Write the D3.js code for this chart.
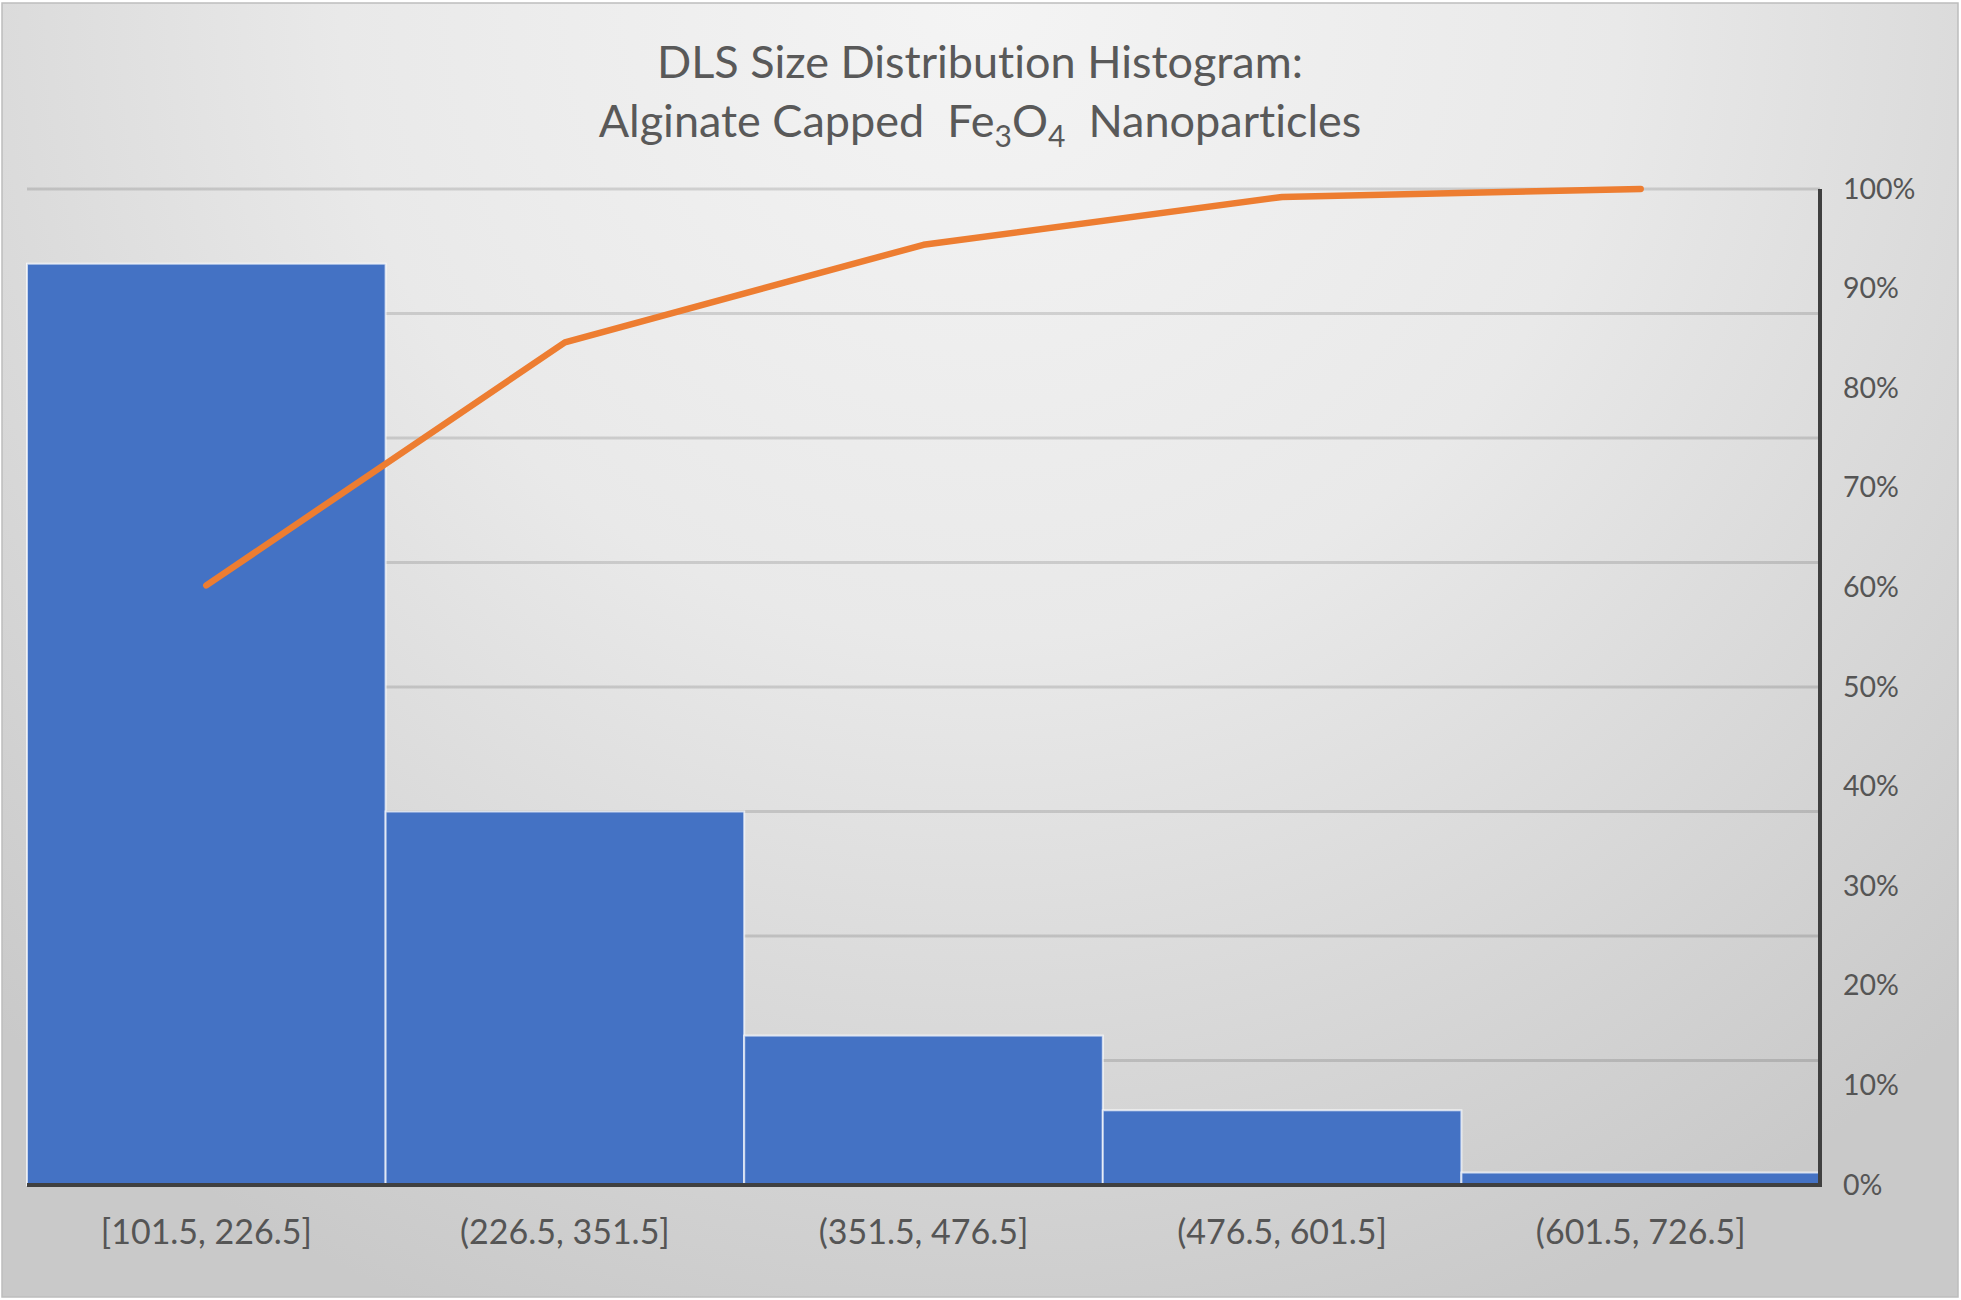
<!DOCTYPE html>
<html>
<head>
<meta charset="utf-8">
<script src="https://cdn.jsdelivr.net/npm/d3@7"></script>
<style>
  body { margin: 0; background: #ffffff; }
  svg { display: block; }
  text { font-variant-ligatures: none; }
</style>
</head>
<body>
<script>
'use strict';

// histogram bins (DLS size, nm)
const binLabels = ['[101.5, 226.5]', '(226.5, 351.5]', '(351.5, 476.5]', '(476.5, 601.5]', '(601.5, 726.5]'];
// particle counts in each bin (hidden primary axis)
const counts = [74, 30, 12, 6, 1];
// cumulative percentage (secondary axis)
const cumulativePct = [60.2, 84.6, 94.4, 99.2, 100];
const countTicks = [0, 10, 20, 30, 40, 50, 60, 70, 80];
const pctTicks = [0, 10, 20, 30, 40, 50, 60, 70, 80, 90, 100];

(function () {
  const W = 1961, H = 1300;
  const plotLeft = 27, plotRight = 1820, plotTop = 189, plotBottom = 1185;

  const svg = d3.select('body').append('svg')
    .attr('width', W)
    .attr('height', H);

  // background gradient like the Excel chart area
  const defs = svg.append('defs');
  const grad = defs.append('radialGradient')
    .attr('id', 'bg')
    .attr('gradientUnits', 'userSpaceOnUse')
    .attr('cx', 980).attr('cy', 0).attr('r', 1420);
  grad.append('stop').attr('offset', '0').attr('stop-color', '#f4f4f4');
  grad.append('stop').attr('offset', '0.45').attr('stop-color', '#e9e9e9');
  grad.append('stop').attr('offset', '1').attr('stop-color', '#c9c9c9');

  svg.append('rect')
    .attr('x', 2).attr('y', 3)
    .attr('width', W - 5).attr('height', H - 6)
    .attr('fill', 'url(#bg)')
    .attr('stroke', '#bdbdbd')
    .attr('stroke-width', 1.5);

  // scales
  const x = d3.scaleBand()
    .domain(binLabels)
    .range([plotLeft, plotRight])
    .padding(0);

  const yCount = d3.scaleLinear()
    .domain([0, 80])
    .range([plotBottom, plotTop]);

  const yPct = d3.scaleLinear()
    .domain([0, 100])
    .range([plotBottom, plotTop]);

  // gridlines from the (hidden) count axis
  svg.append('g')
    .selectAll('line')
    .data(countTicks)
    .enter()
    .append('line')
    .attr('x1', plotLeft)
    .attr('x2', plotRight)
    .attr('y1', d => yCount(d))
    .attr('y2', d => yCount(d))
    .attr('stroke', 'rgba(0,0,0,0.13)')
    .attr('stroke-width', 3);

  // histogram bars
  svg.append('g')
    .selectAll('rect')
    .data(counts)
    .enter()
    .append('rect')
    .attr('x', (d, i) => x(binLabels[i]))
    .attr('y', d => yCount(d))
    .attr('width', x.bandwidth())
    .attr('height', d => plotBottom - yCount(d))
    .attr('fill', '#4472c4')
    .attr('stroke', 'rgba(255,255,255,0.7)')
    .attr('stroke-width', 2);

  // cumulative % line
  const line = d3.line()
    .x((d, i) => x(binLabels[i]) + x.bandwidth() / 2)
    .y(d => yPct(d));

  svg.append('path')
    .datum(cumulativePct)
    .attr('d', line)
    .attr('fill', 'none')
    .attr('stroke', '#ed7d31')
    .attr('stroke-width', 6.5)
    .attr('stroke-linecap', 'round')
    .attr('stroke-linejoin', 'round');

  // x axis (category labels)
  const xAxis = d3.axisBottom(x).tickSize(0).tickPadding(35);
  const gx = svg.append('g')
    .attr('transform', `translate(0, ${plotBottom})`)
    .call(xAxis);
  gx.select('.domain').remove();
  gx.selectAll('text')
    .style('font-family', 'Lato, sans-serif')
    .style('font-size', '34px')
    .attr('fill', '#555555');

  // right % axis
  const yAxis = d3.axisRight(yPct)
    .tickValues(pctTicks)
    .tickFormat(d => d + '%')
    .tickSize(0)
    .tickPadding(23);
  const gy = svg.append('g')
    .attr('transform', `translate(${plotRight}, 0)`)
    .call(yAxis);
  gy.select('.domain').remove();
  gy.selectAll('text')
    .style('font-family', 'Lato, sans-serif')
    .style('font-size', '28.5px')
    .attr('fill', '#555555');

  // axis lines
  svg.append('line')
    .attr('x1', plotLeft).attr('x2', plotRight + 2)
    .attr('y1', plotBottom).attr('y2', plotBottom)
    .attr('stroke', '#404040')
    .attr('stroke-width', 4);
  svg.append('line')
    .attr('x1', plotRight).attr('x2', plotRight)
    .attr('y1', plotTop).attr('y2', plotBottom + 2)
    .attr('stroke', '#404040')
    .attr('stroke-width', 4);

  // title
  const title = svg.append('text')
    .attr('text-anchor', 'middle')
    .style('font-family', 'Lato, sans-serif')
    .style('font-size', '45px')
    .attr('fill', '#595959');

  title.append('tspan')
    .attr('x', 980).attr('y', 78)
    .text('DLS Size Distribution Histogram:');

  const t2 = title.append('tspan')
    .attr('x', 980).attr('y', 137);
  t2.append('tspan').text('Alginate Capped\u00a0\u00a0Fe');
  t2.append('tspan').attr('dy', 10).style('font-size', '30px').text('3');
  t2.append('tspan').attr('dy', -10).text('O');
  t2.append('tspan').attr('dy', 10).style('font-size', '30px').text('4');
  t2.append('tspan').attr('dy', -10).text('\u00a0\u00a0Nanoparticles');
})();
</script>
</body>
</html>
